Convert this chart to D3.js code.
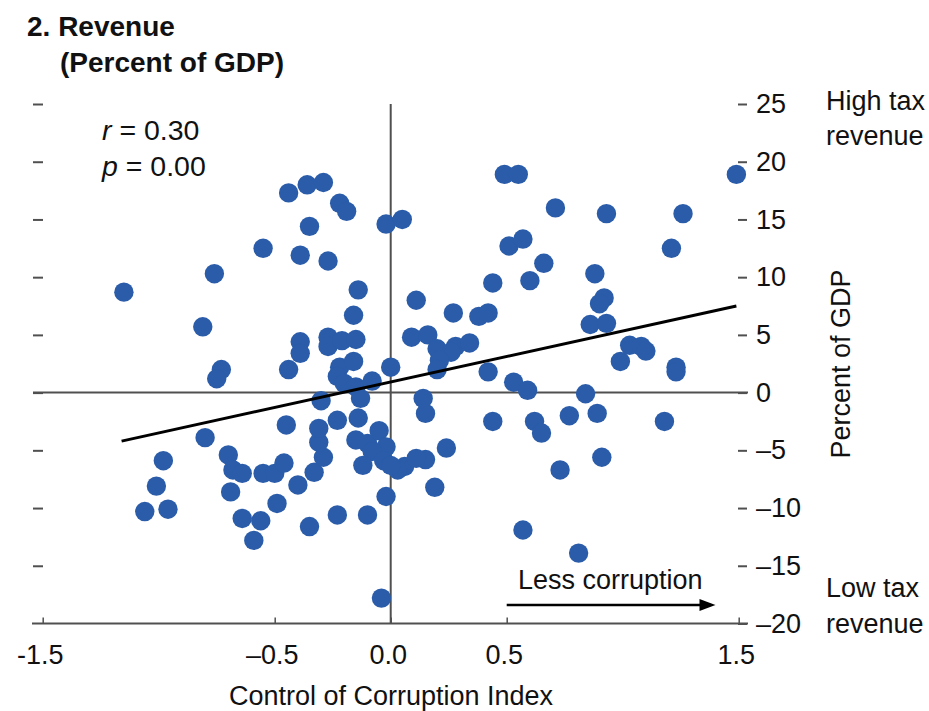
<!DOCTYPE html>
<html>
<head>
<meta charset="utf-8">
<script src="https://cdn.jsdelivr.net/npm/d3@7"></script>
<style>
  body { margin: 0; background: #fff; }
  svg text { font-family: "Liberation Sans", Arial, sans-serif; fill: #111; }
</style>
</head>
<body>
<svg id="chart" width="929" height="711"></svg>
<script>
// Control of Corruption Index (x) vs revenue, percent of GDP (y)
var corruption = [
  -1.15, -0.76, -0.81, -0.73, -0.75, -0.55, -0.44, -0.36, -0.29, -0.22,
  -0.19, -0.35, -0.39, -0.27, -0.14, -0.16, -0.39, -0.39, -0.44, -0.27,
  -0.27, -0.21, -0.15, -0.22, -0.16, -0.23, -0.20, -0.15, -0.08, 0.00,
  -0.02, 0.05, 0.11, 0.09, 0.49, 0.55, 1.49, 0.71, 0.93, 1.26,
  0.51, 0.57, 1.21, 0.66, 0.44, 0.60, 0.88, 0.27, 0.38, 0.42,
  0.92, 0.90, 0.86, 0.93, 0.16, 0.20, 0.28, 0.26, 0.34, 0.21,
  0.20, 0.42, 0.53, 0.59, 0.84, 0.99, 1.03, 1.08, 1.10, 1.23,
  1.23, 0.14, 0.15, 0.44, 0.62, 0.65, 0.77, 0.89, 1.18, 0.24,
  0.15, 0.06, 0.03, 0.19, -0.02, 0.73, 0.91, 0.57, 0.81, -0.30,
  -0.23, -0.13, -0.14, -0.45, -0.80, -0.98, -1.01, -1.06, -0.96, -0.70,
  -0.68, -0.64, -0.69, -0.55, -0.50, -0.46, -0.49, -0.40, -0.64, -0.56,
  -0.59, -0.35, -0.23, -0.10, -0.33, -0.29, -0.31, -0.31, -0.15, -0.10,
  -0.05, -0.02, -0.08, -0.12, -0.03, 0.00, 0.11, -0.04
];
var revenue = [
  8.7, 10.3, 5.7, 2.0, 1.2, 12.5, 17.3, 18.0, 18.2, 16.4,
  15.7, 14.4, 11.9, 11.4, 8.9, 6.7, 4.4, 3.4, 2.0, 4.8,
  4.0, 4.5, 4.6, 2.2, 2.7, 1.4, 0.8, 0.5, 1.0, 2.2,
  14.6, 15.0, 8.0, 4.8, 18.9, 18.9, 18.9, 16.0, 15.5, 15.5,
  12.7, 13.3, 12.5, 11.2, 9.5, 9.7, 10.3, 6.9, 6.6, 6.9,
  8.2, 7.7, 5.9, 6.0, 5.0, 3.8, 4.0, 3.5, 4.3, 2.8,
  2.0, 1.8, 0.9, 0.2, -0.1, 2.7, 4.1, 4.0, 3.6, 2.2,
  1.8, -0.5, -1.8, -2.5, -2.5, -3.5, -2.0, -1.8, -2.5, -4.8,
  -5.8, -6.4, -6.7, -8.2, -9.0, -6.7, -5.6, -11.9, -13.9, -0.7,
  -2.4, -0.5, -2.2, -2.8, -3.9, -5.9, -8.1, -10.3, -10.1, -5.4,
  -6.7, -7.0, -8.6, -7.0, -7.0, -6.1, -9.6, -8.0, -10.9, -11.1,
  -12.8, -11.6, -10.6, -10.6, -6.9, -5.6, -4.3, -3.1, -4.1, -4.4,
  -3.3, -4.7, -5.1, -6.3, -5.9, -6.3, -5.7, -17.8
];

// fitted line end points
var fitX = [-1.16, 1.49];
var fitY = [-4.2, 7.5];

var xTicks = [-1.5, -0.5, 0, 0.5, 1.5];
var xTickLabels = ["-1.5", "\u20130.5", "0.0", "0.5", "1.5"];
var yTicks = [25, 20, 15, 10, 5, 0, -5, -10, -15, -20];
var yTickLabels = ["25", "20", "15", "10", "5", "0", "\u20135", "\u201310", "\u201315", "\u201320"];

var statNames = ["r", "p"];
var statValues = ["0.30", "0.00"];

var arrowX = [0.5, 1.4];
var arrowY = -18.4;

var svg = d3.select("#chart");
var FS = 27;
var axisColor = "#505050";
var dotColor = "#2a5ca9";

var x = d3.scaleLinear().domain([-1.5, 1.5]).range([42.7, 738.7]);
var y = d3.scaleLinear().domain([-20, 25]).range([623.5, 104]);

// title
svg.append("text").attr("x", 27).attr("y", 36)
  .style("font-size", "28px").style("font-weight", "bold").text("2. Revenue");
svg.append("text").attr("x", 60).attr("y", 72)
  .style("font-size", "28px").style("font-weight", "bold").text("(Percent of GDP)");

// left ticks, no labels
var leftAxis = svg.append("g")
  .attr("transform", "translate(43,0)")
  .call(d3.axisLeft(y).tickValues(yTicks.slice(0, -1)).tickSize(10).tickFormat(""));
leftAxis.select(".domain").remove();

// right ticks with labels
var rightAxis = svg.append("g")
  .attr("transform", "translate(738,0)")
  .call(d3.axisRight(y).tickValues(yTicks).tickSize(9).tickPadding(9)
    .tickFormat(function (d, i) { return yTickLabels[i]; }));
rightAxis.select(".domain").remove();

// bottom axis
var bottomAxis = svg.append("g")
  .attr("transform", "translate(0," + y(-20) + ")")
  .call(d3.axisBottom(x).tickValues(xTicks).tickSize(-6).tickPadding(21)
    .tickFormat(function (d, i) { return xTickLabels[i]; }));
bottomAxis.select(".domain").remove();
bottomAxis.append("line")
  .attr("x1", 32).attr("x2", 748).attr("y1", 0).attr("y2", 0);

[leftAxis, rightAxis, bottomAxis].forEach(function (g) {
  g.selectAll("line").attr("stroke", axisColor).attr("stroke-width", 2);
  g.selectAll("text").style("font-size", FS + "px").style("font-family", null).attr("fill", "#111");
});
bottomAxis.selectAll(".tick line").attr("stroke-width", 1.5);
bottomAxis.selectAll(".tick text").attr("dx", -3);

// zero lines
svg.append("line")
  .attr("x1", 33).attr("x2", 748).attr("y1", y(0)).attr("y2", y(0))
  .attr("stroke", axisColor).attr("stroke-width", 2);
svg.append("line")
  .attr("x1", x(0)).attr("x2", x(0)).attr("y1", y(25)).attr("y2", y(-20))
  .attr("stroke", axisColor).attr("stroke-width", 2);

// dots
svg.append("g").selectAll("circle")
  .data(d3.range(corruption.length))
  .enter().append("circle")
  .attr("cx", function (i) { return x(corruption[i]); })
  .attr("cy", function (i) { return y(revenue[i]); })
  .attr("r", 9.7)
  .attr("fill", dotColor);

// fitted line
svg.append("line")
  .attr("x1", x(fitX[0])).attr("y1", y(fitY[0]))
  .attr("x2", x(fitX[1])).attr("y2", y(fitY[1]))
  .attr("stroke", "#000").attr("stroke-width", 3);

// r and p
statNames.forEach(function (s, i) {
  var t = svg.append("text").attr("x", 102).attr("y", 140 + i * 36).style("font-size", "28.5px");
  t.append("tspan").style("font-style", "italic").text(s);
  t.append("tspan").text(" = " + statValues[i]);
});

// arrow annotation
var ay = y(arrowY);
svg.append("line")
  .attr("x1", x(arrowX[0])).attr("x2", x(arrowX[1]) - 12).attr("y1", ay).attr("y2", ay)
  .attr("stroke", "#000").attr("stroke-width", 2.5);
svg.append("path")
  .attr("d", "M" + x(arrowX[1]) + "," + ay + "L" + (x(arrowX[1]) - 16) + "," + (ay - 6) +
    "L" + (x(arrowX[1]) - 16) + "," + (ay + 6) + "Z")
  .attr("fill", "#000");
svg.append("text").attr("x", 518).attr("y", 589).style("font-size", FS + "px").text("Less corruption");

// right side labels
svg.append("text").attr("transform", "translate(850,364) rotate(-90)")
  .attr("text-anchor", "middle").style("font-size", FS + "px").text("Percent of GDP");
svg.append("text").attr("x", 826).attr("y", 110).style("font-size", FS + "px").text("High tax");
svg.append("text").attr("x", 826).attr("y", 145).style("font-size", FS + "px").text("revenue");
svg.append("text").attr("x", 826).attr("y", 597).style("font-size", FS + "px").text("Low tax");
svg.append("text").attr("x", 826).attr("y", 633).style("font-size", FS + "px").text("revenue");

// x axis title
svg.append("text").attr("x", 391).attr("y", 705).attr("text-anchor", "middle")
  .style("font-size", FS + "px").text("Control of Corruption Index");
</script>
</body>
</html>
